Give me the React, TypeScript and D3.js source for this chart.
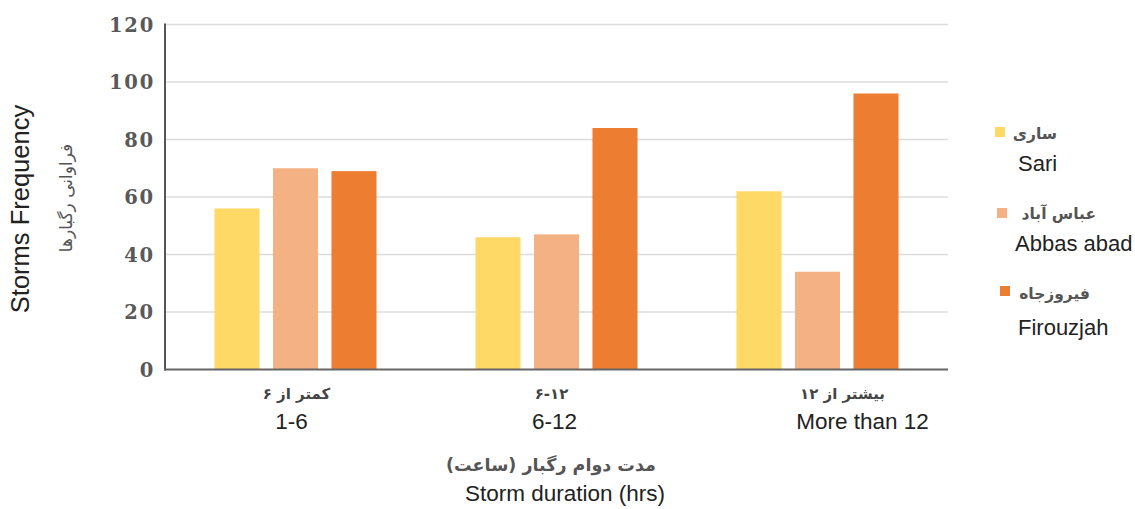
import React from "react";
import * as d3 from "d3";

// Storm counts per duration class at each station
const durations = ["1-6", "6-12", "More than 12"];
const durationsFa = ["کمتر از ۶", "۶-۱۲", "بیشتر از ۱۲"];
const stations = ["Sari", "Abbas abad", "Firouzjah"];
const stationsFa = ["ساری", "عباس آباد", "فیروزجاه"];
const sari = [56, 46, 62];
const abbasAbad = [70, 47, 34];
const firouzjah = [69, 84, 96];
const yTicks = [0, 20, 40, 60, 80, 100, 120];

const seriesValues = [sari, abbasAbad, firouzjah];
const colors = ["#FFD966", "#F4B183", "#ED7D31"];

const W = 1135;
const H = 509;
const left = 165;
const right = 948;
const top = 24.5;
const bottom = 369.5;

// small horizontal nudges of the category labels relative to the band centre
const labelShiftFa = [1, -5, 25];
const labelShiftEn = [-4, -2, 45];

const latin = "'Liberation Sans', Arial, sans-serif";
const persian = "'DejaVu Sans', sans-serif";
const tickFont = "'DejaVu Serif', 'Liberation Serif', serif";

export default function App() {
  const x0 = d3.scaleBand<string>().domain(durations).range([left, right]).padding(0);
  const x1 = d3
    .scaleBand<string>()
    .domain(stations)
    .range([0, x0.bandwidth()])
    .paddingInner(0.23)
    .paddingOuter(0.846);
  const y = d3.scaleLinear().domain([0, 120]).range([bottom, top]);

  const legendRows = [
    { sq: [995, 127], fa: [1057, 139], en: [1018, 171] },
    { sq: [997, 208], fa: [1096, 219], en: [1015, 251] },
    { sq: [1000, 286], fa: [1090, 299], en: [1018, 335] },
  ];

  return (
    <svg width={W} height={H} style={{ position: "absolute", left: 0, top: 0, background: "#fff" }}>
      {/* grid */}
      {yTicks.filter((t) => t > 0).map((t) => (
        <line key={t} x1={left} x2={right} y1={y(t)} y2={y(t)} stroke="#DCDCDC" strokeWidth={1.5} />
      ))}
      {/* tick labels */}
      {yTicks.map((t) => (
        <text
          key={t}
          x={155}
          y={y(t)}
          dy="0.36em"
          textAnchor="end"
          fontFamily={tickFont}
          fontWeight="bold"
          fontSize={19.5}
          letterSpacing={1.8}
          fill="#595959"
        >
          {t}
        </text>
      ))}
      {/* bars */}
      {durations.map((d, i) => (
        <g key={d} transform={`translate(${x0(d)},0)`}>
          {stations.map((s, j) => (
            <rect
              key={s}
              x={x1(s)}
              y={y(seriesValues[j][i])}
              width={x1.bandwidth()}
              height={bottom - y(seriesValues[j][i])}
              fill={colors[j]}
            />
          ))}
        </g>
      ))}
      {/* axes */}
      <line x1={left} x2={left} y1={top - 1} y2={bottom + 1} stroke="#555" strokeWidth={2} />
      <line x1={left - 1} x2={right} y1={bottom} y2={bottom} stroke="#666" strokeWidth={2} />
      {/* category labels */}
      {durations.map((d, i) => {
        const cx = (x0(d) as number) + x0.bandwidth() / 2;
        return (
          <g key={d}>
            <text
              x={cx + labelShiftFa[i]}
              y={399}
              textAnchor="middle"
              direction="rtl"
              fontFamily={persian}
              fontWeight="bold"
              fontSize={15}
              fill="#444"
            >
              {durationsFa[i]}
            </text>
            <text x={cx + labelShiftEn[i]} y={429} textAnchor="middle" fontFamily={latin} fontSize={22.5} fill="#222">
              {d}
            </text>
          </g>
        );
      })}
      {/* x title */}
      <text x={551} y={471} textAnchor="middle" direction="rtl" fontFamily={persian} fontWeight="bold" fontSize={17.5} fill="#555">
        مدت دوام رگبار (ساعت)
      </text>
      <text x={565} y={501} textAnchor="middle" fontFamily={latin} fontSize={22.5} fill="#222">
        Storm duration (hrs)
      </text>
      {/* y title */}
      <text
        transform="translate(29,209) rotate(-90)"
        textAnchor="middle"
        fontFamily={latin}
        fontSize={25.5}
        fill="#222"
      >
        Storms Frequency
      </text>
      <text
        transform="translate(72,198) rotate(-90)"
        textAnchor="middle"
        direction="rtl"
        fontFamily={persian}
        fontSize={17}
        fill="#555"
      >
        فراوانی رگبارها
      </text>
      {/* legend */}
      {stations.map((s, j) => (
        <g key={s}>
          <rect x={legendRows[j].sq[0]} y={legendRows[j].sq[1]} width={10} height={10} fill={colors[j]} />
          <text
            x={legendRows[j].fa[0]}
            y={legendRows[j].fa[1]}
            textAnchor="end"
            fontFamily={persian}
            fontWeight="bold"
            fontSize={15.5}
            fill="#555"
          >
            {stationsFa[j]}
          </text>
          <text x={legendRows[j].en[0]} y={legendRows[j].en[1]} fontFamily={latin} fontSize={22} fill="#222">
            {s}
          </text>
        </g>
      ))}
    </svg>
  );
}
